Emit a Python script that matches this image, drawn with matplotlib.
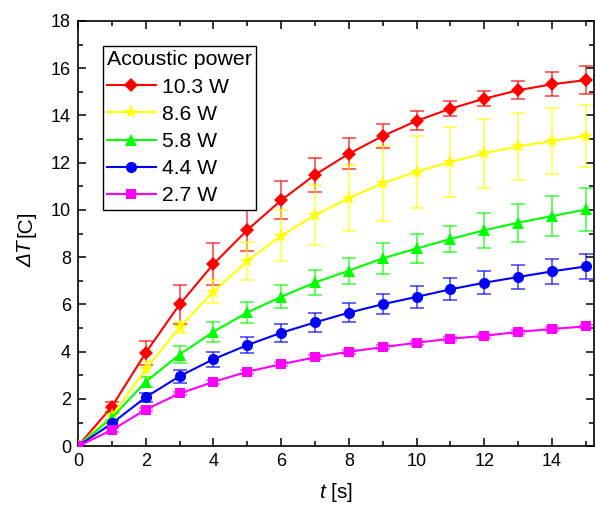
import numpy as np
import matplotlib
matplotlib.use("Agg")
import matplotlib.pyplot as plt

# ---------------- DATA ----------------
t = [0, 1, 2, 3, 4, 5, 6, 7, 8, 9, 10, 11, 12, 13, 14, 15]

dT_103 = [0, 1.67, 3.95, 6.00, 7.71, 9.15, 10.41, 11.49, 12.38, 13.13, 13.77, 14.29, 14.71, 15.07, 15.32, 15.50]
err_103 = [0, 0.22, 0.52, 0.81, 0.90, 0.88, 0.80, 0.73, 0.65, 0.51, 0.40, 0.33, 0.33, 0.38, 0.50, 0.60]

dT_86 = [0, 1.28, 3.26, 5.03, 6.54, 7.84, 8.91, 9.78, 10.50, 11.13, 11.62, 12.03, 12.40, 12.69, 12.92, 13.13]
err_86 = [0, 0.30, 0.35, 0.23, 0.49, 0.80, 1.08, 1.26, 1.40, 1.58, 1.52, 1.50, 1.47, 1.43, 1.38, 1.32]

dT_58 = [0, 1.20, 2.72, 3.88, 4.84, 5.66, 6.32, 6.93, 7.43, 7.95, 8.37, 8.77, 9.14, 9.46, 9.74, 10.02]
err_58 = [0, 0.15, 0.20, 0.35, 0.41, 0.45, 0.49, 0.51, 0.55, 0.65, 0.60, 0.53, 0.73, 0.81, 0.85, 0.90]

dT_44 = [0, 0.96, 2.07, 2.96, 3.68, 4.28, 4.80, 5.24, 5.65, 6.01, 6.32, 6.64, 6.92, 7.16, 7.40, 7.61]
err_44 = [0, 0.15, 0.20, 0.28, 0.32, 0.33, 0.37, 0.39, 0.40, 0.42, 0.45, 0.46, 0.48, 0.49, 0.52, 0.54]

dT_27 = [0, 0.68, 1.55, 2.23, 2.72, 3.15, 3.47, 3.76, 4.00, 4.19, 4.38, 4.55, 4.67, 4.84, 4.96, 5.07]
err_27 = [0, 0.08, 0.08, 0.08, 0.08, 0.08, 0.08, 0.08, 0.08, 0.08, 0.08, 0.08, 0.08, 0.08, 0.08, 0.08]

labels = ["10.3 W", "8.6 W", "5.8 W", "4.4 W", "2.7 W"]
# ---------------------------------------------------------------

plt.rcParams["font.family"] = ["Liberation Sans", "DejaVu Sans"]
plt.rcParams["mathtext.fontset"] = "custom"
plt.rcParams["mathtext.it"] = "Liberation Sans:italic"
plt.rcParams["mathtext.rm"] = "Liberation Sans"

series = [
    (dT_103, err_103, "#ff0000", "D", 7.5),
    (dT_86, err_86, "#ffff00", "*", 11),
    (dT_58, err_58, "#00ff00", "^", 8.5),
    (dT_44, err_44, "#0000ff", "o", 8),
    (dT_27, err_27, "#ff00ff", "s", 7),
]

fig = plt.figure(figsize=(5.95, 5.07), dpi=100)
ax = fig.add_axes([0.131, 0.120, 0.868, 0.8386])

handles = []
for (y, e, c, m, ms), lab in zip(series, labels):
    ax.errorbar(t, y, yerr=e, fmt="none", ecolor=c, alpha=0.7,
                elinewidth=1.2, capsize=5, capthick=1.2, zorder=2)
    (h,) = ax.plot(t, y, color=c, marker=m, markersize=ms, lw=1.5,
                   markeredgewidth=0, label=lab, zorder=3)
    handles.append(h)

ax.set_xlim(0, 15.25)
ax.set_ylim(0, 18)
ax.set_xticks(np.arange(0, 15, 2))
ax.set_xticks(np.arange(1, 16, 2), minor=True)
ax.set_yticks(np.arange(0, 19, 2))
ax.set_yticks(np.arange(1, 18, 2), minor=True)

ax.tick_params(which="both", direction="in", top=True, right=True,
               labelsize=13, width=1.1, colors="black")
ax.tick_params(which="major", length=6, pad=5)
ax.tick_params(which="minor", length=3.5)
for sp in ax.spines.values():
    sp.set_linewidth(1.2)

ax.set_xlabel(r"$t$ [s]", fontsize=15, labelpad=8)

# y label: italic "ΔT" + upright "[C]" (mathtext keeps capital Greek upright)
fig.text(0.044, 0.527, "ΔT", rotation=90, fontsize=15, style="italic",
         ha="center", va="top")
fig.text(0.044, 0.533, "[C]", rotation=90, fontsize=15,
         ha="center", va="bottom")

leg = ax.legend(handles=handles, title="Acoustic power", loc="upper left",
                bbox_to_anchor=(0.048, 0.941), borderaxespad=0,
                fontsize=15.2, title_fontsize=15.4, alignment="left",
                fancybox=False, edgecolor="black", framealpha=1,
                handlelength=2.3, labelspacing=0.39, borderpad=0.2,
                handletextpad=0.3)
leg.get_frame().set_linewidth(1.0)

fig.savefig("out.png", dpi=100)
